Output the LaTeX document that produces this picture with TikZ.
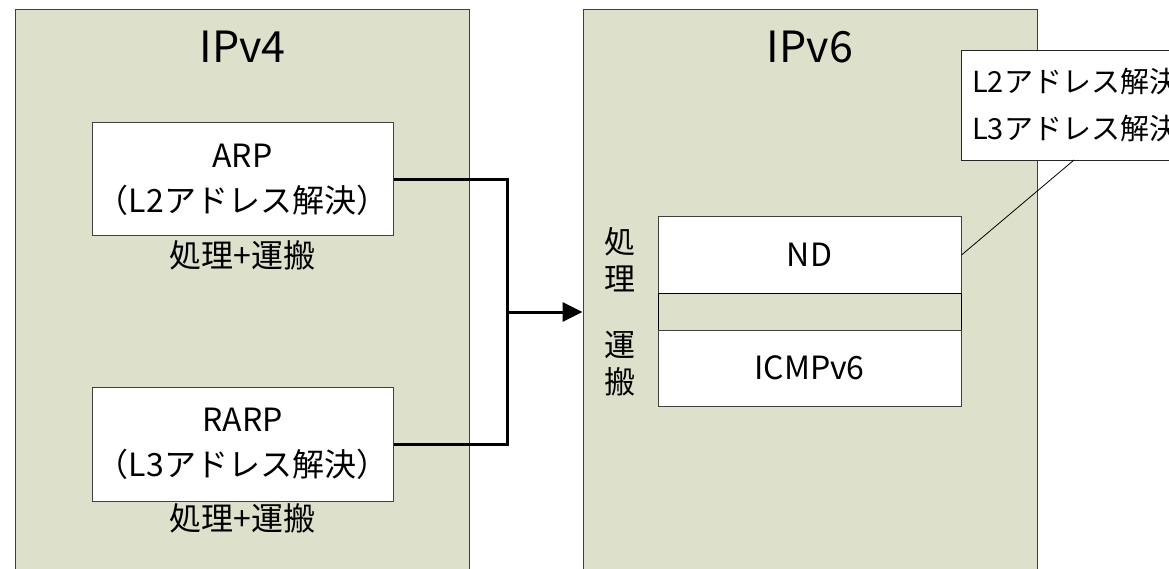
\documentclass[tikz,border=0pt]{standalone}
\usepackage{fontspec}
\setmainfont{Noto Sans CJK JP}
\usetikzlibrary{arrows.meta}

\definecolor{ipgreen}{RGB}{221,225,203}

\tikzset{
  layer/.style={draw=black!75, fill=ipgreen, line width=1pt, minimum width=454pt, minimum height=600pt, inner sep=0pt},
  proto/.style={draw=black!75, fill=white, line width=1pt, inner sep=0pt, align=center, font=\fontsize{32}{45}\selectfont},
  lbl/.style={inner sep=0pt, align=center, font=\fontsize{31}{37}\selectfont},
  title/.style={inner sep=0pt, font=\fontsize{43}{50}\selectfont},
  notetext/.style={inner sep=0pt, anchor=base west, font=\fontsize{29}{30}\selectfont},
  wire/.style={line width=3pt, line join=miter},
}

\begin{document}
\begin{tikzpicture}[x=1pt, y=-1pt]
    \clip (0,0) rectangle (1169,569);

    \node[layer] (ipv4) at (242.5,310) {};
    \node[layer] (ipv6) at (810,310) {};
    \node[title] (v4title) at (242.5,47) {IPv4};
    \node[title] (v6title) at (810,47) {IPv6};

    \node[proto, minimum width=301pt, minimum height=113pt] (arp) at (242.5,179.5) {ARP\\（L2アドレス解決）};
    \node[proto, minimum width=301pt, minimum height=114pt] (rarp) at (242.5,444) {RARP\\（L3アドレス解決）};
    \node[lbl, font=\fontsize{32}{37}\selectfont] (arpwork) at (242.5,255) {処理+運搬};
    \node[lbl, font=\fontsize{32}{37}\selectfont] (rarpwork) at (242.5,518) {処理+運搬};

    \node[proto, minimum width=303pt, minimum height=76pt] (nd) at (809.5,255) {ND};
    \node[proto, fill=ipgreen, draw=black, minimum width=303pt, minimum height=37pt] (band) at (809.5,311.5) {};
    \node[proto, minimum width=303pt, minimum height=76pt] (icmp) at (809.5,368) {ICMPv6};
    \node[lbl] (proc) at (620,260) {処\\理};
    \node[lbl] (carry) at (620,364) {運\\搬};

    \node[draw=black!85, fill=white, line width=1pt, inner sep=0pt, minimum width=340pt, minimum height=110pt, anchor=north west] (note) at (961,50) {};
    \node[notetext] (l2) at (972,93) {L2アドレス解決};
    \node[notetext] (l3) at (972,140) {L3アドレス解決};
    \coordinate (tip) at (1074,160);
    \draw[line width=0.8pt] (nd.east) -- (tip);

    \coordinate (join) at (507,312);
    \draw[wire] (arp.east) -| (join) |- (rarp.east);
    \draw[wire, -{Triangle[length=20pt,width=19pt]}] (join) -- (join -| ipv6.west);
\end{tikzpicture}
\end{document}
